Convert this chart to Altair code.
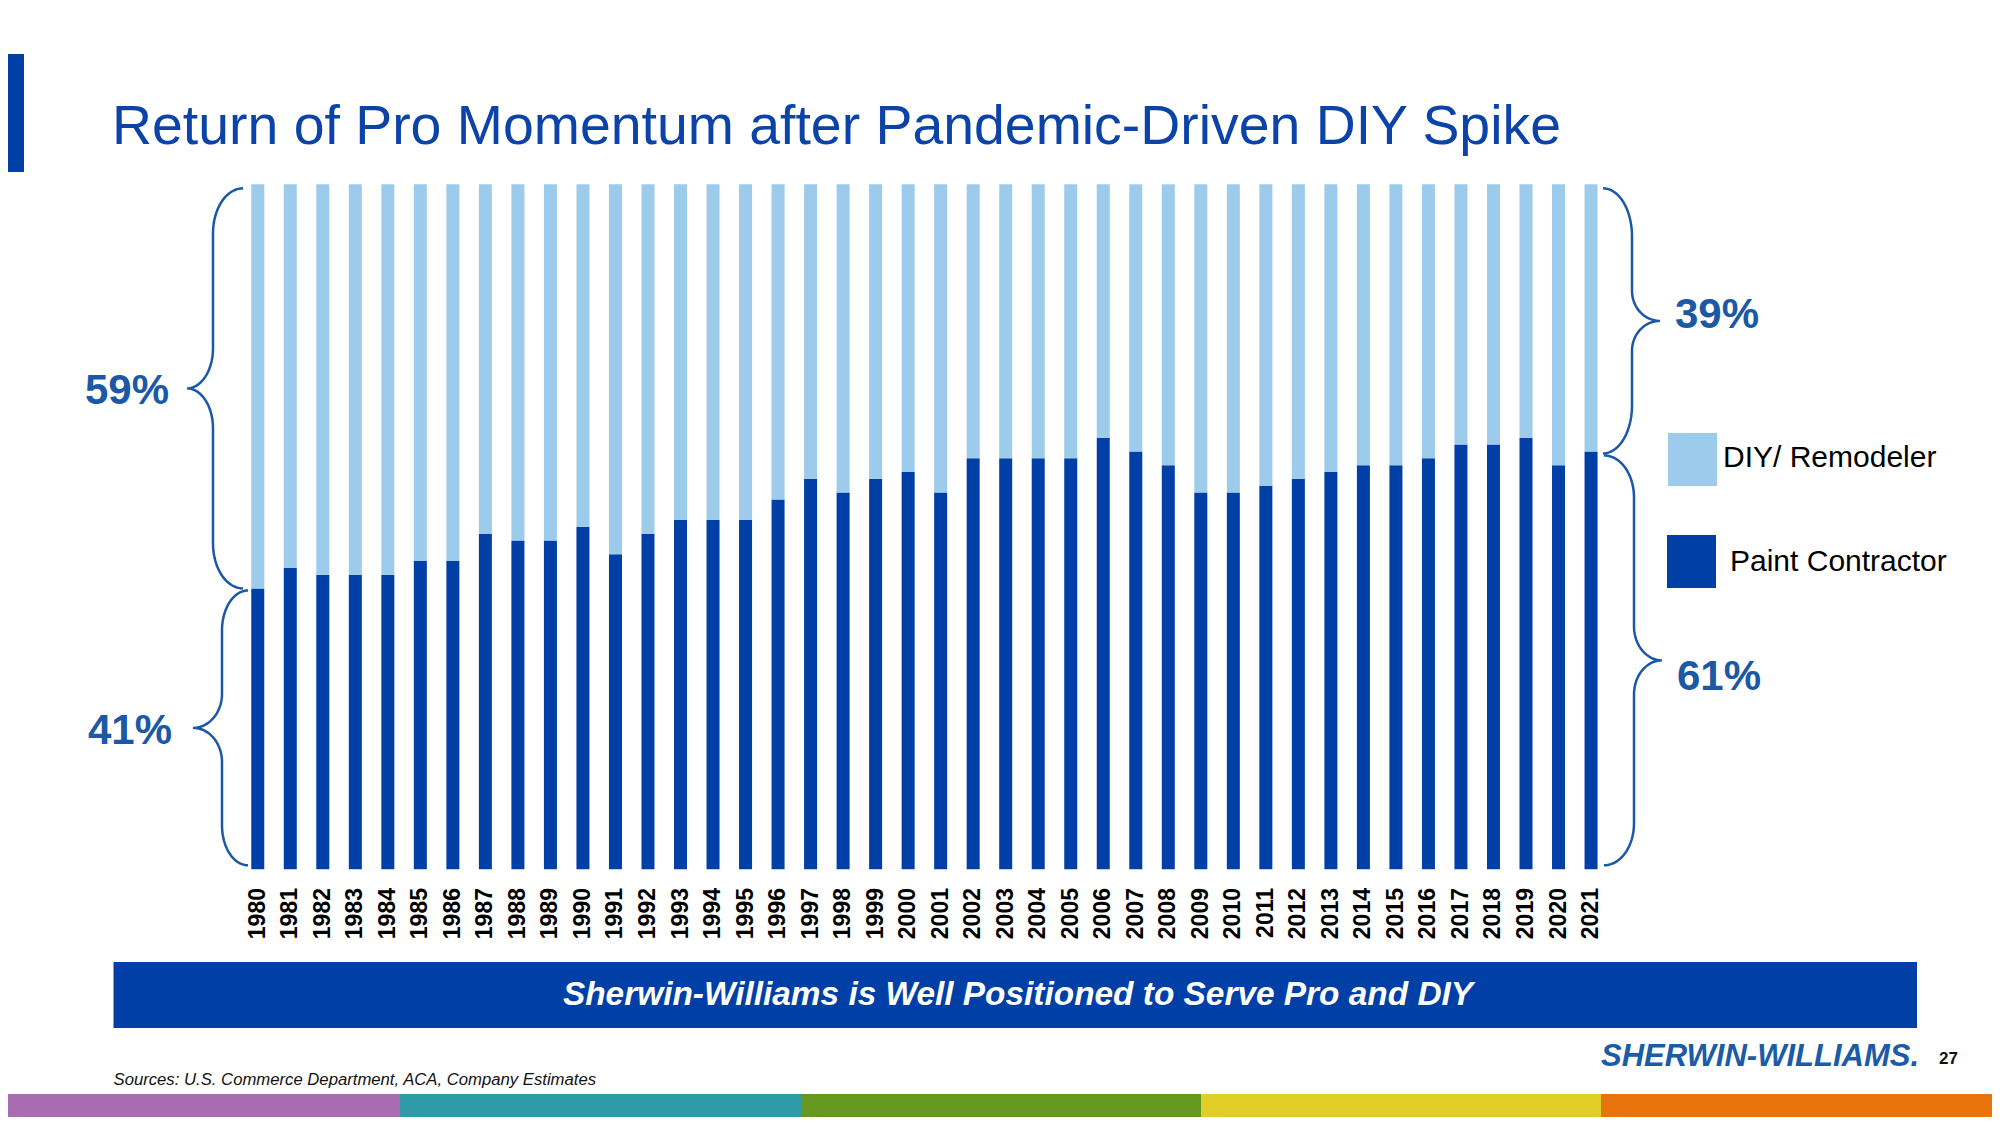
import math
import altair as alt
import pandas as pd

# ---------------- data ----------------
years = ["1980", "1981", "1982", "1983", "1984", "1985", "1986", "1987", "1988", "1989",
         "1990", "1991", "1992", "1993", "1994", "1995", "1996", "1997", "1998", "1999",
         "2000", "2001", "2002", "2003", "2004", "2005", "2006", "2007", "2008", "2009",
         "2010", "2011", "2012", "2013", "2014", "2015", "2016", "2017", "2018", "2019",
         "2020", "2021"]
pro_share = [41, 44, 43, 43, 43, 45, 45, 49, 48, 48,
             50, 46, 49, 51, 51, 51, 54, 57, 55, 57,
             58, 55, 60, 60, 60, 60, 63, 61, 59, 55,
             55, 56, 57, 58, 59, 59, 60, 62, 62, 63,
             59, 61]
diy_share = [59, 56, 57, 57, 57, 55, 55, 51, 52, 52,
             50, 54, 51, 49, 49, 49, 46, 43, 45, 43,
             42, 45, 40, 40, 40, 40, 37, 39, 41, 45,
             45, 44, 43, 42, 41, 41, 40, 38, 38, 37,
             41, 39]
series_names = ["DIY/ Remodeler", "Paint Contractor"]
series_colors = ["#9DCBEC", "#003FA6"]
title_text = "Return of Pro Momentum after Pandemic-Driven DIY Spike"
brace_labels = ["59%", "41%", "39%", "61%"]
banner_text = "Sherwin-Williams is Well Positioned to Serve Pro and DIY"
source_text = "Sources: U.S. Commerce Department, ACA, Company Estimates"
logo_text = "SHERWIN-WILLIAMS."
page_number = "27"
stripe_colors = ["#A76CB2", "#309BA8", "#65981E", "#E0CE26", "#E8730A"]

# ---------------- layout ----------------
W, H = 1984, 1109
FONT = "Liberation Sans"
DARK = "#003FA6"
ACCENT = "#1B58A5"
Y0, Y100 = 861.3, 176.3
X0, X1 = 233.5, 1599.3


def ypix(v):
    return Y0 - v * (Y0 - Y100) / 100.0


rows = []
for yr, p, d in zip(years, pro_share, diy_share):
    rows.append(dict(year=yr, series="Paint Contractor", lo=0, hi=p))
    rows.append(dict(year=yr, series="DIY/ Remodeler", lo=p, hi=p + d))
bars_df = pd.DataFrame(rows)

x_scale = alt.Scale(domain=years, range=[X0, X1], paddingInner=0.6, paddingOuter=0.3)
y_scale = alt.Scale(domain=[0, 100], range=[Y0, Y100], nice=False, zero=False)

bars = alt.Chart(bars_df).mark_bar().encode(
    x=alt.X("year:N", scale=x_scale, axis=None),
    y=alt.Y("lo:Q", scale=y_scale, axis=None),
    y2="hi:Q",
    color=alt.Color("series:N", scale=alt.Scale(domain=series_names, range=series_colors), legend=None),
)

year_labels = alt.Chart(pd.DataFrame({"year": years})).mark_text(
    angle=270, align="right", baseline="middle", font=FONT, fontSize=23,
    fontWeight="bold", color="#000000"
).encode(
    x=alt.X("year:N", scale=x_scale, axis=None),
    y=alt.value(880),
    text="year:N",
)


# ---------------- braces ----------------
def brace_points(name, k, x_spine, a, b, y_top, y_bot, ry_end, ry_mid, n=20):
    y_mid = (y_top + y_bot) / 2.0
    pts = []

    def add(u, y):
        pts.append(dict(brace=name, i=len(pts), px=x_spine + k * u, py=y))

    for j in range(n + 1):
        ph = math.pi / 2 * j / n
        add(a - a * math.sin(ph), y_top + ry_end - ry_end * math.cos(ph))
    for j in range(n + 1):
        ph = math.pi / 2 * j / n
        add(-b + b * math.cos(ph), y_mid - ry_mid + ry_mid * math.sin(ph))
    for j in range(n + 1):
        ph = math.pi / 2 * j / n
        add(-b + b * math.sin(ph), y_mid + ry_mid - ry_mid * math.cos(ph))
    for j in range(n + 1):
        ph = math.pi / 2 * j / n
        add(a - a * math.cos(ph), y_bot - ry_end + ry_end * math.sin(ph))
    return pts


brace_rows = []
brace_rows += brace_points("lu", 1, 205, 30, 26, ypix(100) + 4, ypix(pro_share[0]), 45, 40)
brace_rows += brace_points("ll", 1, 214, 26, 29, ypix(pro_share[0]) + 2, ypix(0) - 4, 40, 34)
brace_rows += brace_points("ru", -1, 1624, 29, 28, ypix(100) + 4, ypix(pro_share[-1]) + 2, 48, 30)
brace_rows += brace_points("rl", -1, 1626, 30, 28, ypix(pro_share[-1]) + 4, ypix(0) - 4, 42, 34)
brace_df = pd.DataFrame(brace_rows)

braces = alt.Chart(brace_df).mark_line(color=ACCENT, strokeWidth=2.5).encode(
    x=alt.X("px:Q", scale=alt.Scale(domain=[0, W], range=[0, W], nice=False, zero=False), axis=None),
    y=alt.Y("py:Q", scale=alt.Scale(domain=[0, H], range=[0, H], nice=False, zero=False), axis=None),
    detail="brace:N",
    order="i:Q",
)


def rect(x1, x2, y1, y2, color):
    return alt.Chart(pd.DataFrame({"r": [0]})).mark_rect(color=color).encode(
        x=alt.value(x1), x2=alt.value(x2), y=alt.value(y1), y2=alt.value(y2)
    )


def text(s, x, y, size, color, weight="normal", style="normal", align="left", baseline="middle"):
    return alt.Chart(pd.DataFrame({"t": [s]})).mark_text(
        font=FONT, fontSize=size, fontWeight=weight, fontStyle=style,
        color=color, align=align, baseline=baseline
    ).encode(x=alt.value(x), y=alt.value(y), text="t:N")


layers = [
    rect(0, 16, 46, 164, DARK),
    text(title_text, 104, 136, 55.4, "#0B43A8", baseline="alphabetic"),
    bars,
    year_labels,
    braces,
    text(brace_labels[0], 77, 383, 42, ACCENT, weight="bold"),
    text(brace_labels[1], 80, 723, 42, ACCENT, weight="bold"),
    text(brace_labels[2], 1667, 307, 42, ACCENT, weight="bold"),
    text(brace_labels[3], 1669, 669, 42, ACCENT, weight="bold"),
    rect(1660, 1709, 425, 478, series_colors[0]),
    rect(1659, 1708, 527, 580, series_colors[1]),
    text(series_names[0], 1715, 450, 30, "#000000"),
    text(series_names[1], 1722, 554, 30, "#000000"),
    rect(105.5, 1909, 954, 1020, DARK),
    text(banner_text, 1010, 987, 33.4, "#FFFFFF", weight="bold", style="italic", align="center"),
    text(source_text, 105.5, 1072, 16.7, "#111111", style="italic"),
    text(logo_text, 1593, 1049, 31, "#1C5BA6", weight="bold", style="italic"),
    text(page_number, 1931, 1051, 17, "#111111", weight="bold"),
]

stripe_edges = [0, 392, 793, 1193, 1593, 1984]
for i, c in enumerate(stripe_colors):
    layers.append(rect(stripe_edges[i], stripe_edges[i + 1], 1086, 1117, c))

chart = alt.layer(*layers).resolve_scale(
    x="independent", y="independent"
).properties(
    width=W, height=H, autosize=alt.AutoSizeParams(type="none"), padding=0
).configure_view(stroke=None)

chart.save("out.html", embed_options={"renderer": "svg", "actions": False})
